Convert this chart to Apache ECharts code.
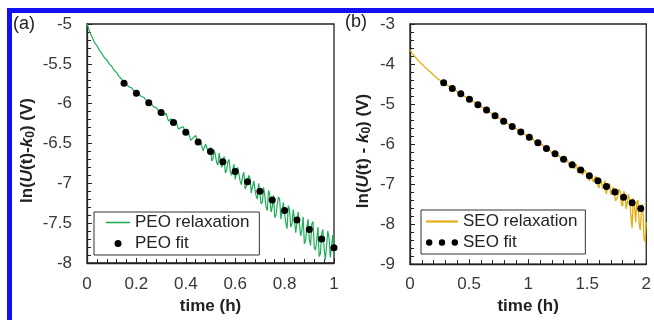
<!DOCTYPE html>
<html>
<head>
<meta charset="utf-8">
<script src="https://cdn.jsdelivr.net/npm/echarts@6/dist/echarts.min.js"></script>
<style>
  html, body { margin: 0; padding: 0; background: #fff; }
  #chart { width: 654px; height: 320px; }
</style>
</head>
<body>
<div id="chart"></div>
<script>
// (a) PEO: relaxation trace [time h, ln(U(t)-k0) V]
const peoRelaxation = [
  [0.00, -5.00], [0.01, -5.09], [0.02, -5.16], [0.03, -5.23], [0.04, -5.27], [0.05, -5.33],
  [0.06, -5.37], [0.07, -5.42], [0.08, -5.45], [0.09, -5.50], [0.10, -5.53], [0.11, -5.58],
  [0.12, -5.61], [0.13, -5.66], [0.14, -5.69], [0.15, -5.74], [0.16, -5.76], [0.17, -5.79],
  [0.18, -5.80], [0.19, -5.84], [0.20, -5.86], [0.21, -5.88], [0.22, -5.91], [0.23, -5.92],
  [0.24, -5.96], [0.25, -5.98], [0.26, -6.00], [0.27, -6.04], [0.28, -6.05], [0.29, -6.09],
  [0.30, -6.08], [0.31, -6.15], [0.32, -6.12], [0.33, -6.22], [0.34, -6.19], [0.35, -6.24],
  [0.36, -6.21], [0.37, -6.32], [0.38, -6.30], [0.39, -6.29], [0.40, -6.38], [0.41, -6.35],
  [0.42, -6.46], [0.43, -6.43], [0.44, -6.40], [0.45, -6.51], [0.46, -6.48], [0.47, -6.59],
  [0.48, -6.51], [0.49, -6.59],
  [0.50, -6.55], [0.505, -6.72], [0.51, -6.69], [0.515, -6.58], [0.52, -6.65], [0.525, -6.74],
  [0.53, -6.77], [0.535, -6.62], [0.54, -6.64], [0.545, -6.80], [0.55, -6.76], [0.555, -6.66],
  [0.56, -6.87], [0.565, -6.84], [0.57, -6.73], [0.575, -6.70], [0.58, -6.85], [0.585, -6.90],
  [0.59, -6.83], [0.595, -6.76], [0.60, -6.95], [0.605, -6.93], [0.61, -6.80], [0.615, -6.82],
  [0.62, -6.97], [0.625, -7.02], [0.63, -6.91], [0.635, -6.86], [0.64, -7.07], [0.645, -7.04],
  [0.65, -6.98], [0.655, -6.90], [0.66, -6.94], [0.665, -7.12], [0.67, -7.11], [0.675, -6.97],
  [0.68, -7.08], [0.685, -7.16], [0.69, -7.20], [0.695, -7.00], [0.70, -7.02], [0.705, -7.26],
  [0.71, -7.23], [0.715, -7.05], [0.72, -7.16], [0.725, -7.30], [0.73, -7.34], [0.735, -7.09],
  [0.74, -7.14], [0.745, -7.36], [0.75, -7.30], [0.755, -7.15], [0.76, -7.43], [0.765, -7.40],
  [0.77, -7.27], [0.775, -7.17], [0.78, -7.20], [0.785, -7.45], [0.79, -7.46], [0.795, -7.24],
  [0.80, -7.39], [0.805, -7.50], [0.81, -7.57], [0.815, -7.28], [0.82, -7.33], [0.825, -7.55],
  [0.83, -7.51], [0.835, -7.33], [0.84, -7.46], [0.845, -7.62], [0.85, -7.64], [0.855, -7.36],
  [0.86, -7.38], [0.865, -7.66], [0.87, -7.58], [0.875, -7.42], [0.88, -7.76], [0.885, -7.72],
  [0.89, -7.55], [0.895, -7.45], [0.90, -7.70], [0.905, -7.78], [0.91, -7.51], [0.915, -7.48],
  [0.92, -7.80], [0.925, -7.84], [0.93, -7.72], [0.935, -7.55], [0.94, -7.92], [0.945, -7.88],
  [0.95, -7.63], [0.955, -7.58], [0.96, -7.82], [0.965, -7.96], [0.97, -7.94], [0.975, -7.60],
  [0.98, -7.69], [0.985, -7.93], [0.99, -7.95], [0.995, -7.65], [1.00, -7.88]
]
const peoFit = [
  [0.15, -5.745], [0.20, -5.87], [0.25, -5.99], [0.30, -6.11], [0.35, -6.235], [0.40, -6.36],
  [0.45, -6.48], [0.50, -6.60], [0.55, -6.73], [0.60, -6.85], [0.65, -6.98], [0.70, -7.10],
  [0.75, -7.21], [0.80, -7.34], [0.85, -7.46], [0.90, -7.58], [0.95, -7.70], [1.00, -7.81]
]

// (b) SEO
const seoRelaxation = [
  [0.00, -3.65], [0.02, -3.74], [0.04, -3.81], [0.06, -3.88], [0.08, -3.94], [0.10, -4.00],
  [0.12, -4.06], [0.14, -4.11], [0.16, -4.17], [0.18, -4.22], [0.20, -4.28], [0.22, -4.33],
  [0.24, -4.38], [0.26, -4.42], [0.28, -4.46], [0.30, -4.50], [0.32, -4.54], [0.34, -4.58],
  [0.36, -4.62], [0.38, -4.65], [0.40, -4.69], [0.42, -4.73], [0.44, -4.77], [0.46, -4.80],
  [0.48, -4.84], [0.50, -4.88], [0.52, -4.91], [0.54, -4.95], [0.56, -4.99], [0.58, -5.03],
  [0.60, -5.06], [0.62, -5.10], [0.64, -5.14], [0.66, -5.18], [0.68, -5.21], [0.70, -5.25],
  [0.72, -5.29], [0.74, -5.33], [0.76, -5.36], [0.78, -5.40], [0.80, -5.44], [0.82, -5.47],
  [0.84, -5.51], [0.86, -5.55], [0.88, -5.59], [0.90, -5.62], [0.92, -5.67], [0.94, -5.69],
  [0.96, -5.74], [0.98, -5.77], [1.00, -5.80], [1.02, -5.88], [1.04, -5.87], [1.06, -5.96],
  [1.08, -5.96], [1.10, -6.02], [1.12, -6.01], [1.14, -6.12], [1.16, -6.12], [1.18, -6.13],
  [1.20, -6.23], [1.22, -6.21], [1.24, -6.31], [1.26, -6.28], [1.28, -6.37],
  [1.30, -6.33], [1.31, -6.45], [1.32, -6.49], [1.33, -6.38], [1.34, -6.47], [1.35, -6.55],
  [1.36, -6.60], [1.37, -6.44], [1.38, -6.47], [1.39, -6.62], [1.40, -6.62], [1.41, -6.50],
  [1.42, -6.72], [1.43, -6.70], [1.44, -6.61], [1.45, -6.58], [1.46, -6.77], [1.47, -6.79],
  [1.48, -6.65], [1.49, -6.66], [1.50, -6.79], [1.51, -6.86], [1.52, -6.92], [1.53, -6.72],
  [1.54, -6.81], [1.55, -6.95], [1.56, -6.94], [1.57, -6.80], [1.58, -6.85], [1.59, -7.04],
  [1.60, -7.10], [1.61, -6.86], [1.62, -6.91], [1.63, -7.12], [1.64, -7.11], [1.65, -6.92],
  [1.66, -7.25], [1.67, -7.22], [1.68, -7.04], [1.69, -6.99], [1.70, -7.27], [1.71, -7.30],
  [1.72, -7.07], [1.73, -7.05], [1.74, -7.42], [1.75, -7.40], [1.76, -7.30], [1.77, -7.12],
  [1.78, -7.20], [1.79, -7.50], [1.80, -7.55], [1.81, -7.18], [1.82, -7.28], [1.83, -7.62],
  [1.84, -7.60], [1.85, -7.25], [1.86, -7.40], [1.87, -7.80], [1.88, -8.10], [1.89, -7.35],
  [1.90, -7.55], [1.91, -7.95], [1.92, -7.45], [1.93, -7.40], [1.94, -8.00], [1.95, -8.15],
  [1.96, -7.60], [1.97, -7.50], [1.98, -8.35], [1.99, -8.45], [2.00, -7.95]
]
const seoFit = [
  [0.285, -4.47], [0.358, -4.61], [0.430, -4.74], [0.503, -4.88], [0.575, -5.02], [0.648, -5.15],
  [0.720, -5.29], [0.793, -5.43], [0.865, -5.56], [0.938, -5.70], [1.010, -5.83], [1.083, -5.97],
  [1.155, -6.11], [1.228, -6.24], [1.300, -6.38], [1.373, -6.52], [1.445, -6.65], [1.518, -6.79],
  [1.590, -6.92], [1.663, -7.06], [1.735, -7.20], [1.808, -7.33], [1.880, -7.47], [1.953, -7.61]
]

const FONT = "Liberation Sans, Arial, sans-serif"
const INK = "#222"
const PEO_COLOR = "#1fae58"
const SEO_COLOR = "#e6ad12"
const LINE_ICON = "path://M0,0h24v1.6h-24z"
const DOTS_ICON = "path://M0,3a3,3 0 1,0 6,0a3,3 0 1,0 -6,0zM12,3a3,3 0 1,0 6,0a3,3 0 1,0 -6,0zM24,3a3,3 0 1,0 6,0a3,3 0 1,0 -6,0z"

function yTitle(spaced) {
  const mid = spaced ? "(t) - " : "(t)-"
  return {
    name: "{b|ln(}{bi|U}{b|" + mid + "}{bi|k}{sub|0}{b|) (V)}",
    nameTextStyle: {
      padding: [0, 14, 0, 0],
      rich: {
        b: { fontFamily: FONT, fontWeight: "bold", fontSize: 17, color: INK, lineHeight: 20 },
        bi: { fontFamily: FONT, fontWeight: "bold", fontStyle: "italic", fontSize: 17, color: INK, lineHeight: 20 },
        sub: { fontFamily: FONT, fontWeight: "bold", fontSize: 12, color: INK, lineHeight: 12, verticalAlign: "bottom" }
      }
    }
  }
}

function axisBase() {
  return {
    type: "value",
    axisLine: { show: true, lineStyle: { color: INK, width: 1.3 } },
    axisTick: { show: true, inside: true, length: 5, lineStyle: { color: INK } },
    minorTick: { show: true, splitNumber: 5, length: 4, lineStyle: { color: INK } },
    splitLine: { show: false },
    nameLocation: "middle",
    nameTextStyle: { fontFamily: FONT, fontWeight: "bold", fontSize: 17, color: INK }
  }
}

function tickLabels(margin) {
  return { fontFamily: FONT, fontSize: 17, color: "#383838", margin: margin }
}

const chart = echarts.init(document.getElementById("chart"), null, { renderer: "canvas" })

const option = {
  animation: false,
  backgroundColor: "#fff",
  grid: [
    { left: 87, top: 24, width: 247, height: 242, show: true, borderColor: INK, borderWidth: 1.3 },
    { left: 410, top: 24, width: 240, height: 242, show: true, borderColor: INK, borderWidth: 1.3 }
  ],
  xAxis: [
    Object.assign(axisBase(), {
      gridIndex: 0, min: 0, max: 1, interval: 0.2,
      name: "time (h)", nameGap: 35, axisLabel: tickLabels(13)
    }),
    Object.assign(axisBase(), {
      gridIndex: 1, min: 0, max: 2, interval: 0.5,
      name: "time (h)", nameGap: 32, axisLabel: tickLabels(12)
    })
  ],
  yAxis: [
    Object.assign(axisBase(), yTitle(false), {
      gridIndex: 0, min: -8, max: -5, interval: 0.5, nameGap: 50, axisLabel: tickLabels(15)
    }),
    Object.assign(axisBase(), yTitle(true), {
      gridIndex: 1, min: -9, max: -3, interval: 1, nameGap: 37, axisLabel: tickLabels(15)
    })
  ],
  legend: [
    {
      data: [{ name: "PEO relaxation", icon: LINE_ICON }, "PEO fit"],
      orient: "vertical", left: 94, top: 212,
      itemWidth: 24, itemHeight: 7, itemGap: 4,
      padding: [2, 10, 3, 12],
      borderColor: "#333", borderWidth: 1, backgroundColor: "#fff",
      textStyle: { fontFamily: FONT, fontSize: 17, color: INK }
    },
    {
      data: [{ name: "SEO relaxation", icon: LINE_ICON }, { name: "SEO fit", icon: DOTS_ICON }],
      orient: "vertical", left: 421, top: 210,
      itemWidth: 32, itemHeight: 7, itemGap: 4,
      padding: [3, 8, 3, 5],
      borderColor: "#333", borderWidth: 1, backgroundColor: "#fff",
      textStyle: { fontFamily: FONT, fontSize: 17, color: INK }
    }
  ],
  graphic: [
    { type: "rect", left: 7, top: 8, shape: { width: 647, height: 5 }, style: { fill: "#1010f0" } },
    { type: "rect", left: 7, top: 8, shape: { width: 5, height: 312 }, style: { fill: "#1010f0" } },
    { type: "text", left: 13, top: 15, style: { text: "(a)", fontFamily: FONT, fontSize: 18, fill: INK } },
    { type: "text", left: 345, top: 13, style: { text: "(b)", fontFamily: FONT, fontSize: 18, fill: INK } }
  ],
  series: [
    {
      name: "PEO relaxation", type: "line", xAxisIndex: 0, yAxisIndex: 0,
      symbol: "none", data: peoRelaxation, z: 2,
      lineStyle: { color: PEO_COLOR, width: 1.2 }, itemStyle: { color: PEO_COLOR }
    },
    {
      name: "PEO fit", type: "scatter", xAxisIndex: 0, yAxisIndex: 0,
      symbolSize: 7, data: peoFit, z: 3, itemStyle: { color: "#000", opacity: 1 }
    },
    {
      name: "SEO relaxation", type: "line", xAxisIndex: 1, yAxisIndex: 1,
      symbol: "none", data: seoRelaxation, z: 2,
      lineStyle: { color: SEO_COLOR, width: 1.3 }, itemStyle: { color: SEO_COLOR }
    },
    {
      name: "SEO fit", type: "scatter", xAxisIndex: 1, yAxisIndex: 1,
      symbolSize: 7, data: seoFit, z: 3, itemStyle: { color: "#000", opacity: 1 }
    }
  ]
}
chart.setOption(option, true)
</script>
</body>
</html>
